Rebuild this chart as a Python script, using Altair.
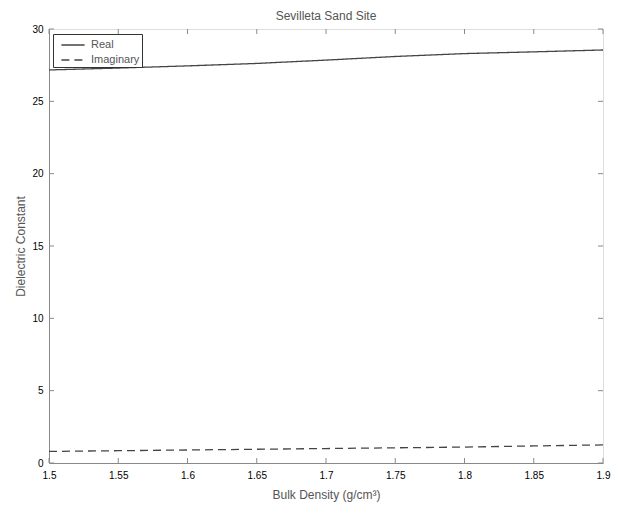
import altair as alt
import pandas as pd

density = [1.5, 1.55, 1.6, 1.65, 1.7, 1.75, 1.8, 1.85, 1.9]
real_vals = [27.17, 27.3, 27.45, 27.62, 27.85, 28.1, 28.3, 28.42, 28.55]
imag_vals = [0.80, 0.85, 0.90, 0.95, 1.00, 1.05, 1.10, 1.18, 1.25]
x_ticks = [1.5, 1.55, 1.6, 1.65, 1.7, 1.75, 1.8, 1.85, 1.9]
y_ticks = [0, 5, 10, 15, 20, 25, 30]

W, H = 554, 434
line_col = "#444444"
axis_col = "#8a8a8a"
text_col = "#555555"
FONT = "Liberation Sans"

df = pd.DataFrame({
    "x": density * 2,
    "y": real_vals + imag_vals,
    "series": ["Real"] * len(density) + ["Imaginary"] * len(density),
})
xt = pd.DataFrame({"x": x_ticks})
yt = pd.DataFrame({"y": y_ticks})

xscale = alt.Scale(domain=[1.5, 1.9], nice=False, zero=False)
yscale = alt.Scale(domain=[0, 30], nice=False)

lines = alt.Chart(df).mark_line(strokeWidth=1.3, color=line_col).encode(
    x=alt.X("x:Q", scale=xscale,
            axis=alt.Axis(title="Bulk Density (g/cm\u00b3)", values=x_ticks, ticks=False,
                          labelPadding=7, format=".2~f", labelFlush=False, grid=False,
                          titlePadding=9, titleFontWeight="normal", titleFont=FONT,
                          titleFontSize=12, titleColor=text_col)),
    y=alt.Y("y:Q", scale=yscale,
            axis=alt.Axis(title="Dielectric Constant", values=y_ticks, ticks=False,
                          labelPadding=6, grid=False, titlePadding=4,
                          titleFontWeight="normal", titleFont=FONT,
                          titleFontSize=12, titleColor=text_col)),
    strokeDash=alt.StrokeDash(
        "series:N",
        scale=alt.Scale(domain=["Real", "Imaginary"], range=[[1, 0], [8, 5]]),
        legend=alt.Legend(title=None, orient="none", legendX=4, legendY=5,
                          strokeColor="#333333", fillColor="white", padding=2,
                          symbolType="M-1.45,0H1.45", symbolSize=256,
                          symbolStrokeWidth=1.3, symbolOffset=9,
                          symbolStrokeColor=line_col, labelFontSize=11,
                          labelColor=text_col, rowPadding=1, labelOffset=9,
                          labelFont=FONT),
    ),
    order=alt.Order("x:Q"),
)

xt_bottom = alt.Chart(xt).mark_rule(color=axis_col, strokeWidth=1).encode(
    x=alt.X("x:Q", scale=xscale), y=alt.value(H), y2=alt.value(H - 5))
xt_top = alt.Chart(xt).mark_rule(color=axis_col, strokeWidth=1).encode(
    x=alt.X("x:Q", scale=xscale), y=alt.value(0), y2=alt.value(5))
yt_left = alt.Chart(yt).mark_rule(color=axis_col, strokeWidth=1).encode(
    y=alt.Y("y:Q", scale=yscale), x=alt.value(0), x2=alt.value(5))
yt_right = alt.Chart(yt).mark_rule(color=axis_col, strokeWidth=1).encode(
    y=alt.Y("y:Q", scale=yscale), x=alt.value(W), x2=alt.value(W - 5))

chart = alt.layer(lines, xt_bottom, xt_top, yt_left, yt_right).properties(
    width=W, height=H,
    title=alt.Title("Sevilleta Sand Site", fontSize=12, fontWeight="normal",
                    color=text_col, font=FONT, offset=1),
    autosize=alt.AutoSizeParams(type="none"),
    padding={"left": 41, "top": 21, "right": 10, "bottom": 50},
).configure_view(stroke=axis_col, strokeWidth=1).configure_axis(
    domainColor=axis_col, labelColor=text_col,
    labelFont=FONT, labelFontSize=11,
).configure(background="white")

chart.save("out.html", embed_options={"renderer": "svg", "actions": False})
